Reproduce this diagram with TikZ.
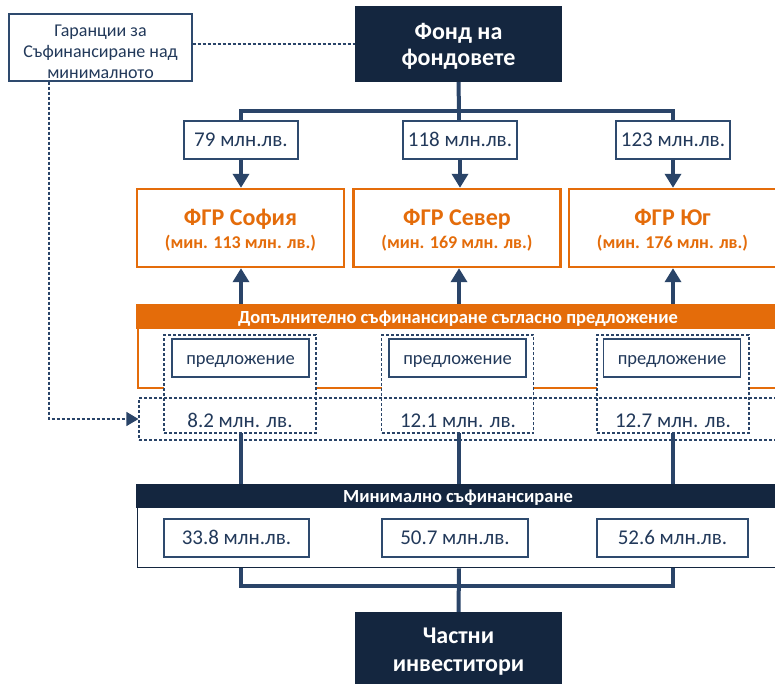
\documentclass[tikz,border=0pt]{standalone}
\usepackage{fontspec}
\setmainfont{Carlito}
\usetikzlibrary{arrows.meta,calc}
\definecolor{navy}{HTML}{14263F}
\definecolor{lineblue}{HTML}{2A4468}
\definecolor{boxborder}{HTML}{2E4A6E}
\definecolor{textblue}{HTML}{22395A}
\definecolor{orng}{HTML}{E46C0A}
\tikzset{
  box/.style={draw=boxborder, line width=1.3pt, fill=white, text=textblue, font=\fontsize{21}{24}\selectfont, inner sep=0pt, text height=16.5pt, text depth=4pt},
  darkbox/.style={fill=navy, inner sep=0pt},
  darktxt/.style={text=white, font=\bfseries\fontsize{24}{28}\selectfont, inner sep=0pt, anchor=base},
  fgr/.style={draw=orng, line width=2.4pt, fill=white, inner sep=0pt, minimum width=207pt, minimum height=78pt},
  fgrtitle/.style={text=orng, font=\bfseries\fontsize{24}{28}\selectfont, inner sep=0pt, anchor=base},
  fgrsub/.style={text=orng, font=\bfseries\fontsize{18}{22}\selectfont, inner sep=0pt, anchor=base},
  gartxt/.style={text=textblue, font=\fontsize{18}{21}\selectfont, inner sep=0pt, anchor=base},
  conn/.style={draw=lineblue, line width=4pt},
  bigtip/.style={-{Triangle[width=16pt,length=14pt]}},
  dline/.style={draw=lineblue, line width=1.1pt, dash pattern=on 3pt off 2pt},
  dbox/.style={dline, fill=white, minimum width=152pt, minimum height=98pt, inner sep=0pt},
  plain/.style={text=textblue, font=\fontsize{21}{24}\selectfont, inner sep=0pt, text height=16.5pt, text depth=4pt},
  propbox/.style={box, font=\fontsize{18.5}{22}\selectfont, minimum width=137pt, minimum height=38pt},
  hdrtxt/.style={text=white, font=\bfseries\fontsize{18.5}{22}\selectfont, inner sep=0pt, anchor=base}
}
\begin{document}
\begin{tikzpicture}[x=1pt,y=-1pt]
\useasboundingbox (0,0) rectangle (775,683);
\clip (0,0) rectangle (775,683);

% top
\node[draw=boxborder, line width=1.3pt, fill=white, minimum width=183pt, minimum height=67pt, inner sep=0pt] (gar) at (100.5,47.5) {};
\node[gartxt] (garA) at (100.5,36) {Гаранции за};
\node[gartxt] (garB) at (100.5,57) {Съфинансиране над};
\node[gartxt] (garC) at (100.5,78) {минималното};

\node[darkbox, minimum width=207pt, minimum height=76pt] (fond) at (458.5,44) {};
\node[darktxt] (fondA) at (458.5,39.5) {Фонд на};
\node[darktxt] (fondB) at (458.5,65.5) {фондовете};

\node[box, minimum width=114pt, minimum height=38pt] (a1) at (241,140) {79 млн.лв.};
\node[box, minimum width=114pt, minimum height=38pt] (a2) at (460,140) {118 млн.лв.};
\node[box, minimum width=114pt, minimum height=38pt] (a3) at (673,140) {123 млн.лв.};

\node[fgr] (s1) at (240.5,228) {};
\node[fgr] (s2) at (457,228) {};
\node[fgr] (s3) at (672.5,228) {};
\node[fgrtitle] (s1t) at (240.5,225.5) {ФГР София};
\node[fgrsub] (s1s) at (240.5,248) {(мин. 113 млн. лв.)};
\node[fgrtitle] (s2t) at (457,225.5) {ФГР Север};
\node[fgrsub] (s2s) at (457,248) {(мин. 169 млн. лв.)};
\node[fgrtitle] (s3t) at (672.5,225.5) {ФГР Юг};
\node[fgrsub] (s3s) at (672.5,248) {(мин. 176 млн. лв.)};

\coordinate (jt) at (459,111);
\draw[conn] (fond.south) -- (jt);
\draw[conn] (a1.north) |- (jt) -| (a3.north);
\draw[conn] (jt) -- (jt |- a2.north);
\draw[conn, bigtip] (a1.south) -- (a1.south |- s1.north);
\draw[conn, bigtip] (a2.south) -- (a2.south |- s2.north);
\draw[conn, bigtip] (a3.south) -- (a3.south |- s3.north);

% minimal frame
\node[draw=navy, line width=1.3pt, fill=white, minimum width=640pt, minimum height=83pt, anchor=north west, inner sep=0pt] (mbox) at (137,484) {};
\node[fill=navy, minimum width=641pt, minimum height=24pt, anchor=north west, inner sep=0pt] (mhdr) at (136,484) {};
\node[hdrtxt] (mtxt) at (458,502.5) {Минимално съфинансиране};

% upward arrows (behind)
\draw[conn, bigtip] (mbox.north -| a1) -- (a1 |- s1.south);
\draw[conn, bigtip] (mbox.north -| jt) -- (jt |- s2.south);
\draw[conn, bigtip] (mbox.north -| a3) -- (a3 |- s3.south);

% orange frame
\node[draw=orng, line width=1.5pt, fill=white, minimum width=640pt, minimum height=83pt, anchor=north west, inner sep=0pt] (obox) at (137,304) {};
\node[fill=orng, minimum width=641pt, minimum height=25pt, anchor=north west, inner sep=0pt] (ohdr) at (136,304) {};
\node[hdrtxt] (otxt) at (458,323) {Допълнително съфинансиране съгласно предложение};

\node[dbox] (d1) at (240,384) {};
\node[dbox] (d2) at (457.5,384) {};
\node[dbox] (d3) at (673,384) {};
\node[propbox] (p1) at (240.5,358) {предложение};
\node[propbox] (p2) at (457.5,358) {предложение};
\node[propbox] (p3) at (672,358) {предложение};
\node[plain] (t1) at (240,421) {8.2 млн. лв.};
\node[plain] (t2) at (458,421) {12.1 млн. лв.};
\node[plain] (t3) at (673,421) {12.7 млн. лв.};
\node[dline, minimum width=643pt, minimum height=42pt, inner sep=0pt] (od) at (460.5,419) {};

% minimal amounts
\node[box, minimum width=145pt, minimum height=38pt] (m1) at (236.5,538) {33.8 млн.лв.};
\node[box, minimum width=146pt, minimum height=38pt] (m2) at (455,538) {50.7 млн.лв.};
\node[box, minimum width=151pt, minimum height=38pt] (m3) at (672.5,538) {52.6 млн.лв.};

% bottom
\node[darkbox, minimum width=207pt, minimum height=76pt] (priv) at (458.5,650) {};
\node[darktxt] (privA) at (458.5,643) {Частни};
\node[darktxt] (privB) at (458.5,671) {инвеститори};
\coordinate (jb) at (459,586);
\draw[conn] (mbox.south -| a1) |- (jb) -| (mbox.south -| a3);
\draw[conn] (mbox.south -| jb) -- (priv.north);

% dashed guarantees
\draw[dline] (gar.east |- fond.west) -- (fond.west);
\draw[dline, -{Triangle[width=14pt,length=12pt]}] ([xshift=-51.5pt]gar.south) |- (od.west);
\end{tikzpicture}
\end{document}
